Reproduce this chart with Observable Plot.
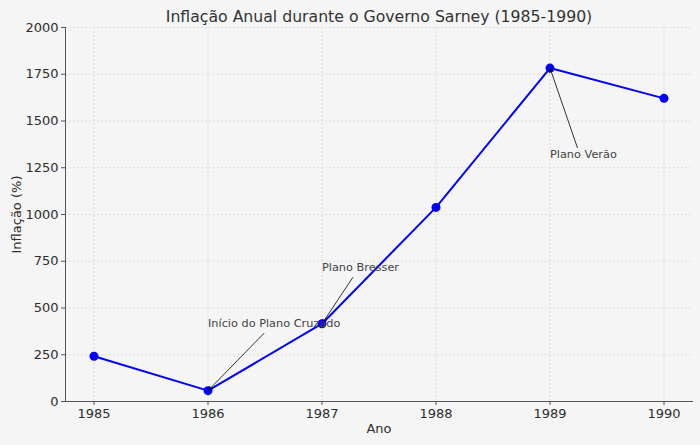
<!DOCTYPE html>
<html>
<head>
<meta charset="utf-8">
<script src="https://cdn.jsdelivr.net/npm/d3@7"></script>
<script src="https://cdn.jsdelivr.net/npm/@observablehq/plot@0.6"></script>
<style>
  html, body { margin: 0; padding: 0; background: #f4f5f4; }
  svg, svg text { font-family: "DejaVu Sans", sans-serif !important; }
</style>
</head>
<body>
<div id="chart"></div>
<script>
const years = [1985, 1986, 1987, 1988, 1989, 1990];
const inflation = [242, 58, 416, 1038, 1783, 1621];
const yTicks = [0, 250, 500, 750, 1000, 1250, 1500, 1750, 2000];

const noteLabels = ["Início do Plano Cruzado", "Plano Bresser", "Plano Verão"];
const noteTextX = [1986, 1987, 1989];
const noteTextY = [400, 700, 1300];
const noteTailX = [1986.49, 1987.27, 1989.24];
const noteTailY = [364, 663, 1358];
const notePointX = [1986, 1987, 1989];
const notePointY = [58, 416, 1783];

const data = years.map((y, i) => ({ year: y, value: inflation[i] }));
const notes = noteLabels.map((t, i) => ({
  label: t, tx: noteTextX[i], ty: noteTextY[i],
  ax: noteTailX[i], ay: noteTailY[i], px: notePointX[i], py: notePointY[i]
}));

const chart = Plot.plot({
  width: 700,
  height: 445,
  marginLeft: 65,
  marginRight: 8,
  marginTop: 27,
  marginBottom: 44,
  style: { background: "#f4f5f4", fontFamily: "DejaVu Sans, sans-serif", fontSize: "13px", color: "#2e2e2e" },
  x: { domain: [1984.75, 1990.25] },
  y: { domain: [0, 2000] },
  marks: [
    Plot.gridX(years, { stroke: "#d4d4d4", strokeOpacity: 1, strokeDasharray: "2,2", strokeWidth: 0.7 }),
    Plot.gridY(yTicks, { stroke: "#d4d4d4", strokeOpacity: 1, strokeDasharray: "2,2", strokeWidth: 0.7 }),
    Plot.axisX(years, { tickFormat: d => String(d), tickSize: 4, tickPadding: 3, fontSize: 13, fill: "#2e2e2e", stroke: "#555",
      label: "Ano", labelAnchor: "center", labelArrow: "none", labelOffset: 31 }),
    Plot.axisY(yTicks, { tickFormat: d => String(d), tickSize: 4, tickPadding: 3, fontSize: 13, fill: "#2e2e2e", stroke: "#555",
      label: "Inflação (%)", labelAnchor: "center", labelArrow: "none", labelOffset: 54 }),
    Plot.frame({ anchor: "left", stroke: "#555" }),
    Plot.frame({ anchor: "bottom", stroke: "#555" }),
    Plot.line(data, { x: "year", y: "value", stroke: "#0000ff", strokeWidth: 2 }),
    Plot.dot(data, { x: "year", y: "value", fill: "#0000ff", r: 4.5 }),
    Plot.arrow(notes, { x1: "ax", y1: "ay", x2: "px", y2: "py", stroke: "black", strokeWidth: 0.8, headLength: 7, insetEnd: 1 }),
    Plot.text(notes, { x: "tx", y: "ty", text: "label", textAnchor: "start", lineAnchor: "bottom", fontSize: 11.3, fill: "#444" }),
    Plot.text(["Inflação Anual durante o Governo Sarney (1985-1990)"], { frameAnchor: "top", dy: -17, fontSize: 15.7, fill: "#333" })
  ]
});
document.getElementById("chart").appendChild(chart);
</script>
</body>
</html>
